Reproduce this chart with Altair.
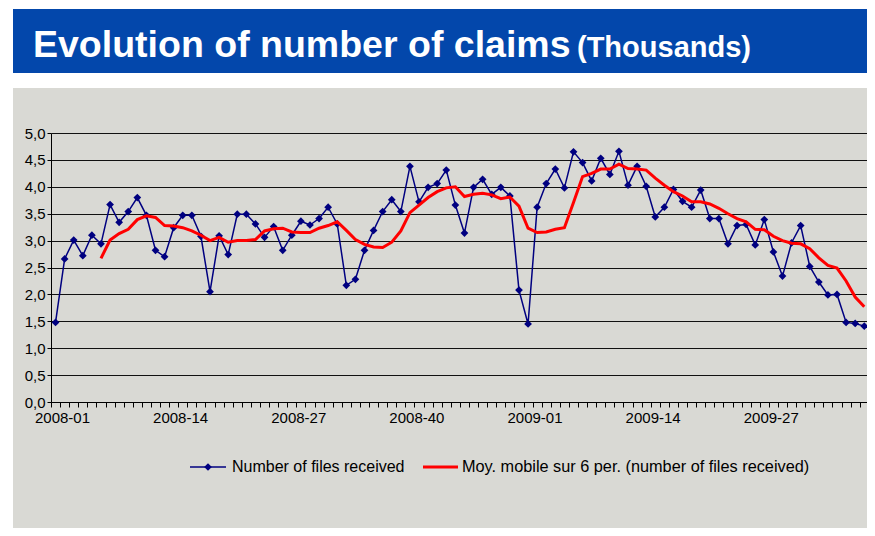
import altair as alt
import pandas as pd

# Weekly number of files received (thousands), 2008-01 .. 2009-38
values = [1.48, 2.66, 3.01, 2.72, 3.10, 2.94, 3.67, 3.34, 3.54, 3.80,
          3.47, 2.82, 2.70, 3.24, 3.47, 3.47, 3.08, 2.05, 3.09, 2.74,
          3.49, 3.49, 3.31, 3.06, 3.26, 2.82, 3.10, 3.36, 3.29, 3.41,
          3.62, 3.31, 2.17, 2.28, 2.82, 3.19, 3.54, 3.76, 3.54, 4.38,
          3.72, 3.99, 4.06, 4.31, 3.66, 3.14, 3.99, 4.14, 3.86, 3.99,
          3.83, 2.08, 1.45, 3.62, 4.06, 4.33, 3.98, 4.65, 4.45, 4.11,
          4.53, 4.23, 4.66, 4.03, 4.38, 4.01, 3.44, 3.62, 3.95, 3.73,
          3.62, 3.94, 3.41, 3.41, 2.94, 3.28, 3.30, 2.92, 3.39, 2.79,
          2.34, 2.96, 3.28, 2.52, 2.23, 1.99, 2.00, 1.48, 1.46, 1.41]

# 6-period moving average as drawn (starts at the 6th week)
ma_start = 5
moving_avg = [2.67, 3.01, 3.13, 3.21, 3.39, 3.46, 3.43, 3.28, 3.27, 3.24,
              3.18, 3.10, 3.00, 3.06, 2.97, 3.00, 3.00, 3.02, 3.18, 3.22,
              3.23, 3.16, 3.15, 3.15, 3.23, 3.28, 3.35, 3.19, 3.02, 2.93,
              2.88, 2.87, 2.97, 3.18, 3.52, 3.66, 3.80, 3.91, 3.98, 4.00,
              3.82, 3.86, 3.88, 3.85, 3.78, 3.81, 3.64, 3.23, 3.15, 3.16,
              3.21, 3.24, 3.71, 4.19, 4.25, 4.33, 4.33, 4.42, 4.34, 4.33,
              4.31, 4.16, 4.03, 3.91, 3.83, 3.72, 3.72, 3.68, 3.60, 3.50,
              3.41, 3.35, 3.21, 3.20, 3.08, 3.00, 2.95, 2.94, 2.85, 2.68,
              2.54, 2.49, 2.25, 1.95, 1.77]

tick_labels = ["2008-01", "2008-14", "2008-27", "2008-40", "2009-01", "2009-14", "2009-27"]
tick_index = [0, 13, 26, 39, 52, 65, 78]
y_ticks = [0, 0.5, 1, 1.5, 2, 2.5, 3, 3.5, 4, 4.5, 5]

title_main = "Evolution of number of claims"
title_sub = "(Thousands)"
legend_1 = "Number of files received"
legend_2 = "Moy. mobile sur 6 per. (number of files received)"

FONT = "Liberation Sans, Arial, sans-serif"
NAVY = "#000080"
RED = "#FF0000"
GRAY = "#D9D9D4"
BLUE = "#0347AB"

PW = 816  # plot width
PH = 269  # plot height

df = pd.DataFrame({"i": list(range(len(values))), "v": values})
ma_df = pd.DataFrame({"i": list(range(ma_start, ma_start + len(moving_avg))), "v": moving_avg})
one = pd.DataFrame({"k": [0]})

n = len(values)
tick_vals = [k - 0.5 for k in range(n)]
label_pos = [t - 0.5 for t in tick_index]
label_expr = (
    "indexof(" + str(label_pos) + ", datum.value) >= 0 ? "
    + str(tick_labels) + "[indexof(" + str(label_pos) + ", datum.value)] : ''"
)

x_enc = alt.X(
    "i:Q",
    scale=alt.Scale(domain=[-0.5, 89.3], nice=False, zero=False),
    axis=alt.Axis(
        values=tick_vals, labelExpr=label_expr, labelOffset=11, labelFlush=False,
        labelOverlap=False, labelBound=False, tickSize=5, tickColor="black",
        domainColor="black", grid=False, labelFont=FONT, labelFontSize=15,
        labelColor="black", labelPadding=3, title=None, labelAngle=0,
    ),
)
y_enc = alt.Y(
    "v:Q",
    scale=alt.Scale(domain=[0, 5], nice=False),
    axis=alt.Axis(
        values=y_ticks, labelExpr="replace(format(datum.value, '.1f'), '.', ',')",
        grid=True, gridColor="#111111", gridWidth=1, tickSize=4, tickColor="black",
        domainColor="black", labelFont=FONT, labelFontSize=15, labelColor="black",
        labelPadding=2, title=None,
    ),
)

# decorations (pixel positions relative to plot origin)
white_top = alt.Chart(one).mark_rect(color="white").encode(
    x=alt.value(-43), x2=alt.value(PW), y=alt.value(-125), y2=alt.value(-45))
white_left = alt.Chart(one).mark_rect(color="white").encode(
    x=alt.value(-43), x2=alt.value(-38), y=alt.value(-125), y2=alt.value(400))
banner = alt.Chart(one).mark_rect(color=BLUE).encode(
    x=alt.value(-38), x2=alt.value(PW), y=alt.value(-124), y2=alt.value(-60))
t1 = alt.Chart(one).mark_text(
    text=title_main, font=FONT, fontSize=37.5, fontWeight="bold", color="white",
    align="left", baseline="alphabetic").encode(x=alt.value(-18), y=alt.value(-76))
t2 = alt.Chart(one).mark_text(
    text=title_sub, font=FONT, fontSize=29, fontWeight="bold", color="white",
    align="left", baseline="alphabetic").encode(x=alt.value(526), y=alt.value(-76))

line = alt.Chart(df).mark_line(color=NAVY, strokeWidth=1.5).encode(x=x_enc, y=y_enc)
pts = alt.Chart(df).mark_point(shape="diamond", filled=True, color=NAVY, size=60, opacity=1).encode(x=x_enc, y=y_enc)
ma_line = alt.Chart(ma_df).mark_line(color=RED, strokeWidth=3).encode(x=x_enc, y=y_enc)

# legend
LY = 334
leg_l1 = alt.Chart(one).mark_rule(color=NAVY, strokeWidth=1.5).encode(
    x=alt.value(139), x2=alt.value(175), y=alt.value(LY))
leg_p1 = alt.Chart(one).mark_point(shape="diamond", filled=True, color=NAVY, size=60, opacity=1).encode(
    x=alt.value(157), y=alt.value(LY))
leg_t1 = alt.Chart(one).mark_text(text=legend_1, font=FONT, fontSize=16, color="black",
                                  align="left", baseline="middle").encode(x=alt.value(181), y=alt.value(LY))
leg_l2 = alt.Chart(one).mark_rule(color=RED, strokeWidth=3).encode(
    x=alt.value(372), x2=alt.value(407), y=alt.value(LY))
leg_t2 = alt.Chart(one).mark_text(text=legend_2, font=FONT, fontSize=16.3, color="black",
                                  align="left", baseline="middle").encode(x=alt.value(411), y=alt.value(LY))

chart = alt.layer(
    white_top, white_left, banner, t1, t2, line, pts, ma_line,
    leg_l1, leg_p1, leg_t1, leg_l2, leg_t2,
).properties(
    width=PW, height=PH,
    padding={"left": 43, "top": 125, "right": 0, "bottom": 126},
    autosize=alt.AutoSizeParams(type="none"),
).configure(background=GRAY).configure_view(strokeWidth=0)

chart.save("out.html", embed_options={"renderer": "svg", "actions": False})
